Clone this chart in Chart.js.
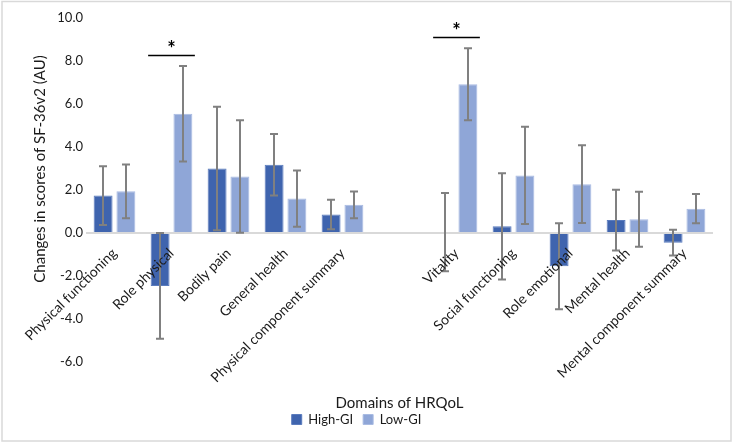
<!DOCTYPE html>
<html>
<head>
<meta charset="utf-8">
<script src="https://cdn.jsdelivr.net/npm/chart.js@4.4.1/dist/chart.umd.min.js"></script>
<style>
  html, body { margin: 0; padding: 0; background: #fff; }
  #wrap { position: relative; width: 733px; height: 444px; }
</style>
</head>
<body>
<div id="wrap"><canvas id="chart"></canvas></div>
<script>
// ─── Data ────────────────────────────────────────────────────────────────────

const categories = [
  'Physical functioning', 'Role physical', 'Bodily pain', 'General health',
  'Physical component summary', '', 'Vitality', 'Social functioning',
  'Role emotional', 'Mental health', 'Mental component summary',
];
const highGI    = [1.74, -2.46, 3.00, 3.18, 0.86, null, 0.04, 0.31, -1.55, 0.60, -0.45];
const highGIErr = [1.37,  2.46, 2.87, 1.43, 0.69, null, 1.82, 2.47,  2.00, 1.41,  0.60];
const lowGI     = [1.94,  5.55, 2.63, 1.60, 1.31, null, 6.92, 2.68,  2.27, 0.64,  1.13];
const lowGIErr  = [1.25,  2.22, 2.62, 1.31, 0.62, null, 1.67, 2.26,  1.81, 1.28,  0.68];

// significance brackets (*)
const sigCategories = ['Role physical', 'Vitality'];
const sigLevels = [8.26, 9.09];

const yTicks = [-6, -4, -2, 0, 2, 4, 6, 8, 10];
const yTitle = 'Changes in scores of SF-36v2 (AU)';

const FONT = 'Lato, "Open Sans", sans-serif';
const TEXT = '#1a1a1a';

// ─── Plugins ─────────────────────────────────────────────────────────────────

const frame = {
  id: 'frame',
  beforeDraw(chart) {
    const { ctx } = chart;
    ctx.save();
    ctx.strokeStyle = '#d9d9d9';
    ctx.lineWidth = 1.5;
    ctx.strokeRect(2, 1.5, 729, 439.5);
    ctx.restore();
  },
};

const errorBars = {
  id: 'errorBars',
  afterDatasetsDraw(chart) {
    const { ctx } = chart;
    const y = chart.scales.y;
    ctx.save();
    // zero line sits over the bars, as in the original
    const y0 = Math.round(y.getPixelForValue(0));
    ctx.fillStyle = '#d9d9d9';
    ctx.fillRect(chart.chartArea.left, y0 - 1, chart.chartArea.width, 2);

    ctx.strokeStyle = '#808080';
    ctx.lineWidth = 2;
    chart.data.datasets.forEach((ds, i) => {
      const meta = chart.getDatasetMeta(i);
      meta.data.forEach((bar, j) => {
        const v = ds.data[j];
        const e = ds.errors[j];
        if (v == null || e == null) return;
        const x = Math.round(bar.x);
        const top = y.getPixelForValue(v + e);
        const bot = y.getPixelForValue(v - e);
        ctx.beginPath();
        ctx.moveTo(x, top); ctx.lineTo(x, bot);
        ctx.moveTo(x - 4, top); ctx.lineTo(x + 4, top);
        ctx.moveTo(x - 4, bot); ctx.lineTo(x + 4, bot);
        ctx.stroke();
      });
    });
    ctx.restore();
  },
};

// category labels hang off the zero line, rotated like the original
const zeroLabels = {
  id: 'zeroLabels',
  afterDraw(chart) {
    const { ctx, chartArea } = chart;
    const xs = chart.scales.x, ys = chart.scales.y;
    const y0 = ys.getPixelForValue(0);
    ctx.save();
    ctx.font = '14px ' + FONT;
    ctx.fillStyle = TEXT;
    ctx.textAlign = 'right';
    ctx.textBaseline = 'middle';
    categories.forEach((c, i) => {
      if (!c) return;
      const x = xs.getPixelForValue(i);
      ctx.save();
      ctx.translate(x, y0 + 18);
      ctx.rotate(-Math.PI / 4);
      ctx.fillText(c, 0, 0);
      ctx.restore();
    });

    // y axis title, centred a little above the plot middle like Excel did
    ctx.save();
    ctx.font = '15px ' + FONT;
    ctx.textAlign = 'center';
    ctx.translate(40, (chartArea.top + chartArea.bottom) / 2 - 21);
    ctx.rotate(-Math.PI / 2);
    ctx.fillText(yTitle, 0, 0);
    ctx.restore();

    // significance markers
    const half = (xs.getPixelForValue(1) - xs.getPixelForValue(0)) * 0.41;
    ctx.strokeStyle = '#000';
    ctx.lineWidth = 1.5;
    ctx.textAlign = 'center';
    ctx.textBaseline = 'middle';
    ctx.font = 'bold 20px ' + FONT;
    ctx.fillStyle = '#000';
    sigCategories.forEach((c, k) => {
      const x = xs.getPixelForValue(categories.indexOf(c));
      const yy = ys.getPixelForValue(sigLevels[k]);
      ctx.beginPath();
      ctx.moveTo(x - half, yy); ctx.lineTo(x + half, yy);
      ctx.stroke();
      ctx.fillText('*', x, yy - 6);
    });
    ctx.restore();
  },
};

// ─── Chart ───────────────────────────────────────────────────────────────────

new Chart(document.getElementById('chart'), {
  type: 'bar',
  data: {
    labels: categories,
    datasets: [
      {
        label: 'High-GI',
        data: highGI,
        errors: highGIErr,
        backgroundColor: '#3f64ae',
        borderColor: '#5a7bbd',
        borderWidth: 1,
        categoryPercentage: 0.8,
        barPercentage: 0.83,
      },
      {
        label: 'Low-GI',
        data: lowGI,
        errors: lowGIErr,
        backgroundColor: '#8fa6d7',
        borderColor: '#a9bbe2',
        borderWidth: 1,
        categoryPercentage: 0.8,
        barPercentage: 0.83,
      },
    ],
  },
  options: {
    responsive: true,
    maintainAspectRatio: false,
    animation: false,
    layout: { padding: { left: 0, right: 20, top: 18, bottom: 8 } },
    plugins: {
      tooltip: { enabled: false },
      legend: {
        position: 'bottom',
        labels: {
          boxWidth: 10, boxHeight: 10, padding: 10,
          color: TEXT, font: { family: FONT, size: 13 },
        },
      },
    },
    scales: {
      x: {
        grid: { display: false },
        border: { display: false },
        ticks: { display: false },
        title: {
          display: true, text: 'Domains of HRQoL', color: TEXT,
          font: { family: FONT, size: 15 }, padding: { top: 24, bottom: -9 },
        },
      },
      y: {
        min: -6, max: 10,
        afterBuildTicks: s => { s.ticks = yTicks.map(v => ({ value: v })); },
        afterFit: s => { s.width = 86; },
        grid: { display: false, drawTicks: false },
        border: { display: false },
        ticks: {
          padding: 3, color: TEXT, font: { family: FONT, size: 13 },
          callback: v => Number(v).toFixed(1),
        },
      },
    },
  },
  plugins: [frame, errorBars, zeroLabels],
});
</script>
</body>
</html>
